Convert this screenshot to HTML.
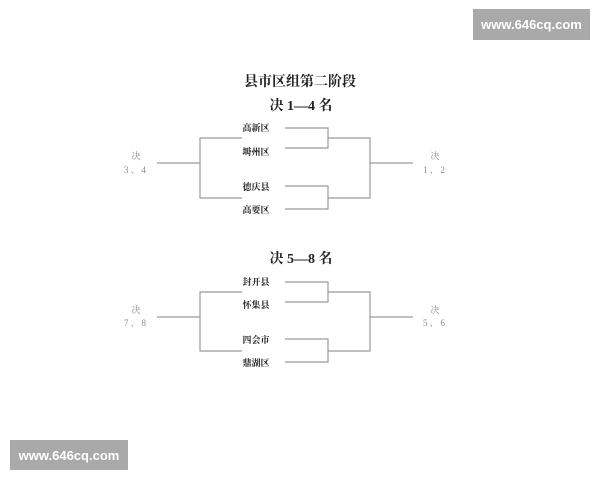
<!DOCTYPE html>
<html><head><meta charset="utf-8"><style>
html,body{margin:0;padding:0;background:#fff;}
body{width:600px;height:480px;position:relative;overflow:hidden;font-family:"Liberation Serif","Noto Serif CJK SC",serif;}
.wm{position:absolute;background:#a9a9a9;color:#fff;font-family:"Liberation Sans",sans-serif;font-size:13px;font-weight:bold;display:flex;align-items:center;justify-content:center;}
</style></head><body>
<svg width="600" height="480" style="position:absolute;left:0;top:0" font-family="Liberation Serif, Noto Serif CJK SC, serif">
<g fill="#222" font-weight="bold" text-anchor="middle">
<text x="300" y="86" font-size="14">县市区组第二阶段</text>
<text x="301" y="110" font-size="14">决 1—4 名</text>
<text x="301" y="263" font-size="14">决 5—8 名</text>
</g>
<g fill="#222" font-weight="bold" font-size="9" text-anchor="middle">
<text x="256" y="131">高新区</text>
<text x="256" y="155">塒州区</text>
<text x="256" y="190">德庆县</text>
<text x="256" y="213">高要区</text>
<text x="256" y="285">封开县</text>
<text x="256" y="308">怀集县</text>
<text x="256" y="343">四会市</text>
<text x="256" y="366">鼎湖区</text>
</g>
<g fill="#888" font-size="9" text-anchor="middle">
<text x="136" y="159">决</text><text x="136" y="173" letter-spacing="2">3、4</text>
<text x="435" y="159">决</text><text x="435" y="173" letter-spacing="2">1、2</text>
<text x="136" y="313">决</text><text x="136" y="326" letter-spacing="2">7、8</text>
<text x="435" y="313">决</text><text x="435" y="326" letter-spacing="2">5、6</text>
</g>
<g stroke="#999" stroke-width="1.2" fill="none">
<path d="M285 128H328V148H285M328 138H370V198H328M285 186H328V209H285M370 163H413"/>
<path d="M242 138H200V198H242M157 163H200"/>
<path d="M285 282H328V302H285M328 292H370V351H328M285 339H328V362H285M370 317H413"/>
<path d="M242 292H200V351H242M157 317H200"/>
</g>
</svg>
<div class="wm" style="left:473px;top:9px;width:117px;height:31px;">www.646cq.com</div>
<div class="wm" style="left:10px;top:440px;width:118px;height:30px;">www.646cq.com</div>
</body></html>
